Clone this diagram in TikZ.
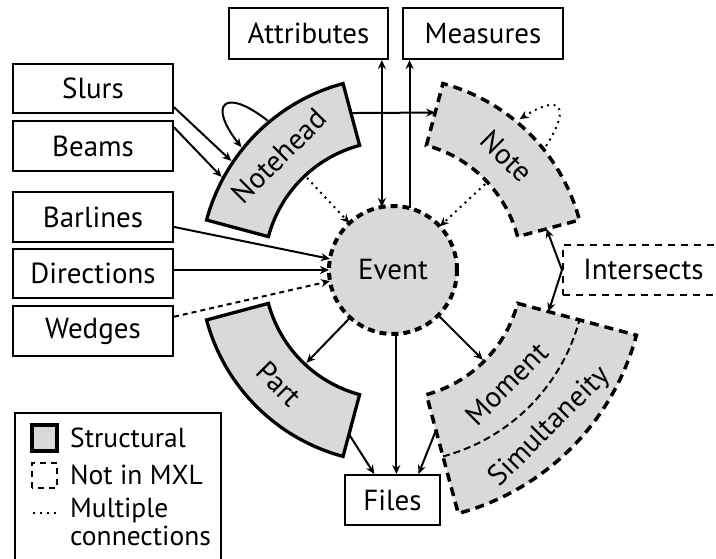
\documentclass[tikz,border=0pt]{standalone}
\usepackage{fontspec}
\setmainfont{PT Sans}
\usepackage{tikz}
\usetikzlibrary{calc}
\usetikzlibrary{arrows.meta}

\tikzset{
  label font/.style = {font = \fontsize{29}{28}\selectfont},
  key font/.style = {font = \fontsize{27.5}{28}\selectfont},
  box/.style = {draw, line width = 2pt, minimum width = 160pt, minimum height = 50pt,
    inner sep = 0pt, label font},
  structural/.style = {draw, fill = gray!30, line width = 3.3pt},
  notmxl/.style = {draw, fill = gray!30, line width = 3.5pt, dash pattern = on 9pt off 6pt},
  link/.style = {line width = 2pt, ->},
  multi/.style = {link, dash pattern = on 2pt off 4.5pt},
  weak/.style = {link, dash pattern = on 5pt off 4pt}
}

% ring segment around the event: style, start angle, end angle, inner and outer radius
\newcommand{\ringpart}[5]{%
  \draw[#1] ($(centre) + (#2:#4)$) arc[start angle = #2, end angle = #3, radius = #4]
    -- ($(centre) + (#3:#5)$) arc[start angle = #3, end angle = #2, radius = #5] -- cycle;}

\begin{document}
\begin{tikzpicture}[x = 1pt, y = 1pt, >={Stealth[length = 9pt, width = 8pt]}]
  \useasboundingbox (0,0) rectangle (716,558);
  \node[shape = coordinate] (centre) at (393,288) {};

% ring segments
  \ringpart{structural}{105}{165}{129}{193}
  \ringpart{notmxl}{15}{75}{129}{193}
  \ringpart{structural}{195}{255}{129}{193}
  \ringpart{notmxl}{-75}{-15}{129}{252}
  \draw[line width = 2pt, dash pattern = on 7pt off 4pt]
    ($(centre) + (-75:193)$) arc[start angle = -75, end angle = -15, radius = 193];

  \node[label font, rotate = 45] (notehead) at ($(centre) + (135:161)$) {Notehead};
  \node[label font, rotate = -45] (note) at ($(centre) + (45:161)$) {Note};
  \node[label font, rotate = -45] (part) at ($(centre) + (225:161)$) {Part};
  \node[label font, rotate = 45] (moment) at ($(centre) + (-45:161)$) {Moment};
  \node[label font, rotate = 45] (simul) at ($(centre) + (-45:222)$) {Simultaneity};

% event
  \node[circle, fill = gray!30, draw, line width = 4pt, dash pattern = on 7pt off 5pt,
    minimum size = 128pt, inner sep = 0pt, outer sep = 0pt, label font] (ev) at (centre) {Event};

% boxes
  \node[box, minimum width = 159pt, minimum height = 51pt] (attr) at (308.5,524.5) {Attributes};
  \node[box, minimum height = 51pt] (meas) at (483,524.5) {Measures};
  \node[box, minimum height = 49pt] (slurs) at (93,469.5) {Slurs};
  \node[box] (beams) at (93,412) {Beams};
  \node[box] (barl) at (93,341) {Barlines};
  \node[box, minimum height = 49pt] (dirs) at (93,284.5) {Directions};
  \node[box] (wedges) at (93,227) {Wedges};
  \node[box, minimum width = 95pt] (files) at (392.5,58) {Files};
  \node[box, minimum width = 161pt, dash pattern = on 7pt off 6pt] (inter) at (643.5,288) {Intersects};

% into the notehead
  \draw[link] (slurs.-13) -- ($(centre) + (146:195)$);
  \draw[link] (beams.13) -- ($(centre) + (151.5:195)$);
  \draw[link] ($(centre) + (130:195)$) .. controls +(142:55) and +(128:55) .. ($(centre) + (141:195)$);
  \draw[link] ($(centre) + (105:162.5)$) -- ($(centre) + (75:163)$);
  \draw[multi] ($(centre) + (39:197)$) .. controls +(58:48) and +(32:48) .. ($(centre) + (50:197)$);

% around the event
  \draw[multi] ($(centre) + (133:126)$) -- (ev.133);
  \draw[multi] ($(centre) + (43:126)$) -- (ev.43);
  \draw[link, <->] (ev.100 |- attr.south) -- (ev.100);
  \draw[link] (ev.75) -- (ev.75 |- meas.south);
  \draw[link] (barl.-7) -- (ev.170);
  \draw[link] (dirs.east |- ev.west) -- (ev.west);
  \draw[weak] (wedges.10) -- (ev.190);
  \draw[link] (ev.228) -- ($(centre) + (227:127)$);
  \draw[link] (ev.-45) -- ($(centre) + (-45:127)$);
  \draw[link] (ev.-87) -- (ev.-87 |- files.north);

% files and intersects
  \draw[link] ($(centre) + (255:170)$) -- (files.125);
  \draw[link] ($(centre) + (-75:166)$) -- (files.45);
  \draw[link] (inter.west) -- ($(centre) + (15:159)$);
  \draw[link] (inter.west) -- ($(centre) + (-15:161)$);

% legend
  \draw[line width = 2pt] (15,-10) rectangle (221,145);
  \draw[structural] (32,107) rectangle (57,133);
  \draw[line width = 2.5pt, dash pattern = on 6pt off 5pt] (32,70) rectangle (57,95);
  \draw[line width = 2pt, dash pattern = on 2pt off 5pt] (33,45) -- (58,45);
  \node[key font, anchor = west, inner sep = 0pt] (leg1) at (70,120) {Structural};
  \node[key font, anchor = west, inner sep = 0pt] (leg2) at (70,83) {Not in MXL};
  \node[key font, anchor = north west, inner sep = 0pt, align = left] (leg3) at (70,60) {Multiple\\connections};
\end{tikzpicture}
\end{document}
